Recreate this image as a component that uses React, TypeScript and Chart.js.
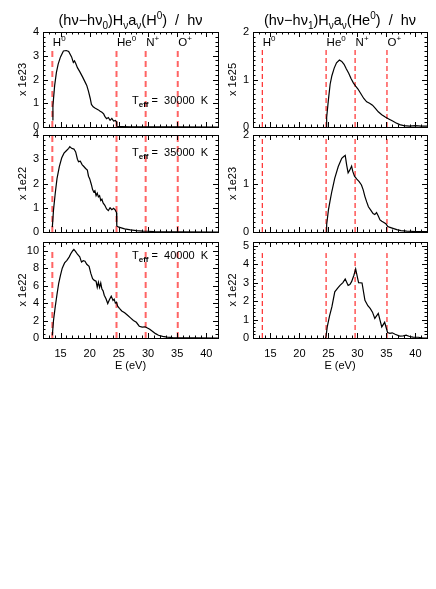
import React, { useEffect, useRef } from 'react';
import { Chart, registerables } from 'chart.js';
Chart.register(...registerables);
Chart.defaults.color = '#000';

const W = 436;
const H = 589;
const FONT = '"Liberation Sans", Arial, Helvetica, sans-serif';

// ---------- data ----------
const edgeEnergies = [13.6, 24.6, 29.6, 35.1];
const edgeNames = ['H', 'He', 'N', 'O'];
const edgeCharges = ['0', '0', '+', '+'];
const teffLabels = ['30000', '35000', '40000'];
const leftYLabels = ['x 1e23', 'x 1e22', 'x 1e22'];
const rightYLabels = ['x 1e25', 'x 1e23', 'x 1e22'];
const xTickValues = [15, 20, 25, 30, 35, 40];

// Left column: (hν−hν0) Hν aν(H0) / hν
const eL1 = [13.6, 13.7, 14.0, 14.3, 14.6, 15.0, 15.5, 16.0, 16.4, 16.9, 17.2, 17.4, 17.6, 17.9, 18.3, 18.8, 19.2, 19.5, 19.8, 20.1, 20.3, 20.6, 20.9, 21.2, 21.5, 21.8, 22.1, 22.4, 22.6, 22.9, 23.2, 23.5, 23.8, 24.1, 24.4, 24.6, 24.65, 25.5, 27, 30, 35, 42];
const vL1 = [0.3, 0.9, 1.75, 2.3, 2.65, 2.95, 3.2, 3.22, 3.18, 2.95, 2.72, 2.78, 2.68, 2.5, 2.33, 2.1, 1.9, 1.75, 1.5, 1.2, 0.95, 0.85, 0.8, 0.76, 0.72, 0.66, 0.62, 0.55, 0.45, 0.35, 0.4, 0.28, 0.36, 0.25, 0.28, 0.22, 0.03, 0.02, 0.01, 0.005, 0.002, 0.001];

const eL2 = [13.6, 13.8, 14.1, 14.4, 14.8, 15.2, 15.6, 16.0, 16.4, 16.6, 16.9, 17.3, 17.6, 17.9, 18.1, 18.4, 18.7, 19.0, 19.3, 19.6, 19.8, 20.0, 20.3, 20.5, 20.7, 20.9, 21.1, 21.3, 21.5, 21.7, 21.9, 22.1, 22.3, 22.6, 22.9, 23.2, 23.5, 23.8, 24.1, 24.4, 24.6, 24.65, 25.0, 26.0, 27.0, 28.0, 29.0, 30.0, 31.0, 32.0, 35, 42];
const vL2 = [0.2, 0.9, 1.6, 2.2, 2.7, 3.05, 3.25, 3.35, 3.45, 3.52, 3.45, 3.42, 3.3, 3.0, 2.9, 2.92, 2.78, 2.7, 2.62, 2.55, 2.3, 2.2, 1.95, 1.75, 1.65, 1.7, 1.5, 1.6, 1.45, 1.5, 1.3, 1.35, 1.2, 1.1, 0.95, 0.88, 1.0, 0.92, 0.98, 0.9, 0.8, 0.25, 0.2, 0.13, 0.09, 0.06, 0.04, 0.03, 0.015, 0.01, 0.003, 0.001];

const eL3 = [13.6, 13.8, 14.1, 14.4, 14.7, 15.0, 15.3, 15.7, 16.1, 16.5, 16.8, 17.1, 17.3, 17.6, 17.9, 18.3, 18.6, 18.9, 19.2, 19.5, 19.9, 20.2, 20.5, 20.8, 21.1, 21.3, 21.5, 21.7, 21.9, 22.1, 22.3, 22.5, 22.8, 23.1, 23.4, 23.7, 24.0, 24.2, 24.4, 24.6, 24.8, 25.1, 25.5, 26.0, 26.5, 27.0, 27.5, 28.0, 28.5, 29.0, 29.5, 29.9, 30.3, 30.8, 31.3, 31.8, 32.5, 33.3, 34.2, 35.0, 36, 38, 42];
const vL3 = [0.3, 2.0, 3.6, 5.0, 6.3, 7.2, 8.0, 8.6, 8.9, 9.3, 9.7, 10.0, 10.15, 9.9, 9.6, 9.3, 8.7, 8.85, 8.8, 8.45, 8.2, 7.4, 6.8, 6.6, 6.5, 5.8, 6.4, 5.8, 6.3, 5.6, 5.4, 4.9, 4.5, 3.95, 4.4, 4.8, 4.3, 4.45, 4.0, 4.1, 3.65, 3.4, 3.1, 2.9, 2.6, 2.3, 2.0, 1.8, 1.35, 1.25, 1.28, 1.15, 1.0, 0.75, 0.5, 0.32, 0.18, 0.1, 0.05, 0.02, 0.01, 0.005, 0.002];

// Right column: (hν−hν1) Hν aν(He0) / hν
const eR1 = [24.6, 24.7, 25.0, 25.3, 25.6, 26.0, 26.4, 26.9, 27.3, 27.7, 28.1, 28.5, 28.9, 29.3, 29.7, 30.1, 30.6, 31.1, 31.6, 32.1, 32.6, 33.1, 33.6, 34.2, 34.8, 35.4, 36.0, 36.6, 37.3, 38.0, 39.0, 40.0, 41.0, 42.0];
const vR1 = [0.0, 0.2, 0.57, 0.9, 1.08, 1.24, 1.35, 1.41, 1.38, 1.32, 1.22, 1.13, 1.02, 0.93, 0.86, 0.8, 0.7, 0.6, 0.53, 0.5, 0.46, 0.39, 0.32, 0.26, 0.21, 0.17, 0.13, 0.09, 0.05, 0.03, 0.02, 0.03, 0.02, 0.02];

const eR2 = [24.6, 24.7, 25.0, 25.3, 25.6, 26.1, 26.7, 27.3, 27.6, 27.9, 28.15, 28.4, 28.7, 29.0, 29.2, 29.5, 29.9, 30.3, 30.7, 31.0, 31.3, 31.6, 31.9, 32.3, 32.7, 33.0, 33.3, 33.6, 33.9, 34.2, 34.5, 34.9, 35.2, 35.5, 36.0, 36.8, 37.5, 38.5, 40, 42];
const vR2 = [0, 0.15, 0.45, 0.65, 0.84, 1.11, 1.35, 1.52, 1.55, 1.58, 1.38, 1.22, 1.28, 1.36, 1.25, 1.15, 1.09, 1.04, 0.97, 0.87, 0.73, 0.62, 0.52, 0.45, 0.38, 0.36, 0.4, 0.33, 0.25, 0.22, 0.2, 0.17, 0.12, 0.1, 0.08, 0.05, 0.03, 0.02, 0.01, 0.01];

const eR3 = [24.5, 24.6, 24.8, 25.2, 25.6, 26.1, 26.6, 27.0, 27.5, 27.9, 28.4, 28.7, 29.0, 29.4, 29.7, 30.2, 30.8, 31.3, 31.8, 32.2, 32.6, 33.0, 33.6, 34.2, 34.7, 35.2, 35.6, 36.0, 36.5, 37.3, 37.9, 38.4, 39.0, 39.6, 40.5, 41.3, 42];
const vR3 = [0, 0.1, 0.6, 1.2, 1.68, 2.5, 2.7, 2.85, 3.0, 3.2, 2.85, 2.9, 3.05, 3.4, 3.74, 3.0, 2.98, 2.04, 1.75, 1.6, 1.4, 1.06, 1.33, 0.6, 0.85, 0.3, 0.25, 0.28, 0.2, 0.1, 0.12, 0.15, 0.08, 0.05, 0.04, 0.0, 0.0];

// axis ranges
const xMin = 12;
const xMax = 42;
const leftYMax = [4, 4, 11];
const leftYStep = [1, 1, 2];
const leftYMinor = [0.2, 0.2, 0.5];
const rightYMax = [2, 2, 5.2];
const rightYStep = [1, 1, 1];
const rightYMinor = [0.1, 0.1, 0.2];
// height (data units) where the dashed edge markers begin
const leftEdgeTop = [3.33, 4, 10.3];
const rightEdgeTop = [1.66, 2, 4.6];
// T_eff label anchor (data units)
const teffX = 40.3;
const teffY = [1.15, 3.3, 9.5];

// ---------- layout ----------
const colLeft = [43, 253];
const colRight = [218, 427];
const colBox = [16, 226];
const rowTop = [32, 135, 242];
const rowBottom = [127, 232, 338];

type Seg = { t: string; s?: 'sub' | 'sup'; b?: boolean };

function drawRich(ctx: CanvasRenderingContext2D, segs: Seg[], x: number, y: number, size: number, align: 'left' | 'center' | 'right') {
  const fontFor = (s: Seg) => `${s.b ? 'bold ' : ''}${s.s ? Math.round(size * 0.7) : size}px ${FONT}`;
  const widths = segs.map((s) => {
    ctx.font = fontFor(s);
    return ctx.measureText(s.t).width;
  });
  const total = widths.reduce((a, b) => a + b, 0);
  let cx = align === 'center' ? x - total / 2 : align === 'right' ? x - total : x;
  ctx.textBaseline = 'alphabetic';
  ctx.textAlign = 'left';
  segs.forEach((s, i) => {
    ctx.font = fontFor(s);
    const dy = s.s === 'sub' ? size * 0.3 : s.s === 'sup' ? -size * 0.42 : 0;
    ctx.fillText(s.t, cx, y + dy);
    cx += widths[i];
  });
}

const titleLeft: Seg[] = [
  { t: '(h\u03bd\u2212h\u03bd' }, { t: '0', s: 'sub' }, { t: ')H' }, { t: '\u03bd', s: 'sub' }, { t: 'a' }, { t: '\u03bd', s: 'sub' },
  { t: '(H' }, { t: '0', s: 'sup' }, { t: ')  /  h\u03bd' },
];
const titleRight: Seg[] = [
  { t: '(h\u03bd\u2212h\u03bd' }, { t: '1', s: 'sub' }, { t: ')H' }, { t: '\u03bd', s: 'sub' }, { t: 'a' }, { t: '\u03bd', s: 'sub' },
  { t: '(He' }, { t: '0', s: 'sup' }, { t: ')  /  h\u03bd' },
];

type PanelCfg = {
  col: number;
  row: number;
  e: number[];
  v: number[];
  ymax: number;
  ystep: number;
  yminor: number;
  ylabel: string;
  edgeTop: number;
};

const panels: PanelCfg[] = [
  { col: 0, row: 0, e: eL1, v: vL1, ymax: leftYMax[0], ystep: leftYStep[0], yminor: leftYMinor[0], ylabel: leftYLabels[0], edgeTop: leftEdgeTop[0] },
  { col: 0, row: 1, e: eL2, v: vL2, ymax: leftYMax[1], ystep: leftYStep[1], yminor: leftYMinor[1], ylabel: leftYLabels[1], edgeTop: leftEdgeTop[1] },
  { col: 0, row: 2, e: eL3, v: vL3, ymax: leftYMax[2], ystep: leftYStep[2], yminor: leftYMinor[2], ylabel: leftYLabels[2], edgeTop: leftEdgeTop[2] },
  { col: 1, row: 0, e: eR1, v: vR1, ymax: rightYMax[0], ystep: rightYStep[0], yminor: rightYMinor[0], ylabel: rightYLabels[0], edgeTop: rightEdgeTop[0] },
  { col: 1, row: 1, e: eR2, v: vR2, ymax: rightYMax[1], ystep: rightYStep[1], yminor: rightYMinor[1], ylabel: rightYLabels[1], edgeTop: rightEdgeTop[1] },
  { col: 1, row: 2, e: eR3, v: vR3, ymax: rightYMax[2], ystep: rightYStep[2], yminor: rightYMinor[2], ylabel: rightYLabels[2], edgeTop: rightEdgeTop[2] },
];

const isMult = (v: number, step: number) => Math.abs(v / step - Math.round(v / step)) < 1e-6;

function Panel({ cfg }: { cfg: PanelCfg }) {
  const ref = useRef<HTMLCanvasElement | null>(null);
  useEffect(() => {
    const { col, row } = cfg;
    const L = colLeft[col];
    const R = colRight[col];
    const T = rowTop[row];
    const B = rowBottom[row];
    const box = colBox[col];
    const bottomRow = row === 2;
    const xh = bottomRow ? 35 : 0;

    const edgeColor = col === 0 ? 'rgba(255,40,40,0.72)' : '#ff0000';
    const edgeWidth = col === 0 ? 2 : 1;
    const edgeDash = col === 0 ? [6, 4] : [5, 3];

    const edgeSets = edgeEnergies.map((en) => ({
      type: 'line' as const,
      data: [{ x: en, y: 0 }, { x: en, y: cfg.edgeTop }],
      borderColor: edgeColor,
      borderWidth: edgeWidth,
      borderDash: edgeDash,
      pointRadius: 0,
      order: 2,
    }));

    const yTickValues: number[] = [];
    for (let i = 0; i * cfg.ystep <= cfg.ymax + 1e-9; i++) yTickValues.push(i * cfg.ystep);

    const idl = {
      id: 'idl' + col + row,
      afterDraw(chart: any) {
        const ctx: CanvasRenderingContext2D = chart.ctx;
        const { left, right, top, bottom } = chart.chartArea;
        const xs = chart.scales.x;
        const ys = chart.scales.y;
        ctx.save();
        ctx.strokeStyle = '#000';
        ctx.lineWidth = 1;
        ctx.beginPath();
        for (let v = xMin + 1; v < xMax; v += 1) {
          const px = Math.round(xs.getPixelForValue(v)) + 0.5;
          const len = isMult(v, 5) ? 5 : 2.5;
          ctx.moveTo(px, bottom);
          ctx.lineTo(px, bottom - len);
          ctx.moveTo(px, top);
          ctx.lineTo(px, top + len);
        }
        const n = Math.round(cfg.ymax / cfg.yminor);
        for (let i = 1; i <= n; i++) {
          const v = i * cfg.yminor;
          if (v >= cfg.ymax - 1e-9) continue;
          const py = Math.round(ys.getPixelForValue(v)) + 0.5;
          const len = isMult(v, cfg.ystep) ? 5 : 2.5;
          ctx.moveTo(left, py);
          ctx.lineTo(left + len, py);
          ctx.moveTo(right, py);
          ctx.lineTo(right - len, py);
        }
        ctx.stroke();
        ctx.strokeRect(Math.round(left) + 0.5, Math.round(top) + 0.5, Math.round(right - left), Math.round(bottom - top));

        ctx.fillStyle = '#000';
        if (row === 0) {
          drawRich(ctx, col === 0 ? titleLeft : titleRight, (left + right) / 2, top - 7, 14.5, 'center');
          edgeEnergies.forEach((en, i) => {
            const px = xs.getPixelForValue(en) + 0.5;
            drawRich(ctx, [{ t: edgeNames[i] }, { t: edgeCharges[i], s: 'sup' }], px, top + 14, 11.5, 'left');
          });
        }
        if (col === 0) {
          const px = xs.getPixelForValue(teffX);
          const py = ys.getPixelForValue(teffY[row]) + 4;
          drawRich(ctx, [{ t: 'T' }, { t: 'eff', s: 'sub', b: true }, { t: ' =  ' + teffLabels[row] + '  K' }], px, py, 11, 'right');
        }
        ctx.restore();
      },
    };

    const chart = new Chart(ref.current as HTMLCanvasElement, {
      type: 'line',
      data: {
        datasets: [
          {
            data: cfg.e.map((en, i) => ({ x: en, y: cfg.v[i] })),
            borderColor: '#000',
            borderWidth: 1.2,
            pointRadius: 0,
            tension: 0,
            order: 1,
          },
          ...edgeSets,
        ],
      },
      options: {
        animation: false,
        responsive: false,
        devicePixelRatio: 1,
        events: [],
        layout: { padding: { left: box, right: W - R, top: T, bottom: H - B - xh } },
        plugins: { legend: { display: false }, tooltip: { enabled: false }, title: { display: false } },
        scales: {
          x: {
            type: 'linear',
            min: xMin,
            max: xMax,
            grid: { display: false, drawTicks: false },
            border: { display: false },
            ticks: {
              display: bottomRow,
              autoSkip: false,
              maxRotation: 0,
              padding: 9,
              color: '#000',
              font: { family: FONT, size: 11 },
            },
            afterBuildTicks: (s: any) => {
              s.ticks = xTickValues.map((v) => ({ value: v }));
            },
            afterFit: (s: any) => {
              s.height = xh;
            },
            title: { display: bottomRow, text: 'E (eV)', color: '#000', padding: 0, font: { family: FONT, size: 11 } },
          },
          y: {
            type: 'linear',
            min: 0,
            max: cfg.ymax,
            grid: { display: false, drawTicks: false },
            border: { display: false },
            ticks: { padding: 4, color: '#000', font: { family: FONT, size: 11 } },
            afterBuildTicks: (s: any) => {
              s.ticks = yTickValues.map((v) => ({ value: v }));
            },
            afterFit: (s: any) => {
              s.width = L - box;
            },
            title: { display: true, text: cfg.ylabel, color: '#000', padding: 0, font: { family: FONT, size: 11 } },
          },
        },
      },
      plugins: [idl],
    } as any);
    return () => chart.destroy();
  }, [cfg]);
  return (
    <canvas
      ref={ref}
      width={W}
      height={H}
      style={{ position: 'absolute', left: 0, top: 0, width: W, height: H }}
    />
  );
}

export default function App() {
  return (
    <div style={{ position: 'absolute', left: 0, top: 0, width: W, height: H, background: '#fff' }}>
      {panels.map((p, i) => (
        <Panel key={i} cfg={p} />
      ))}
    </div>
  );
}
